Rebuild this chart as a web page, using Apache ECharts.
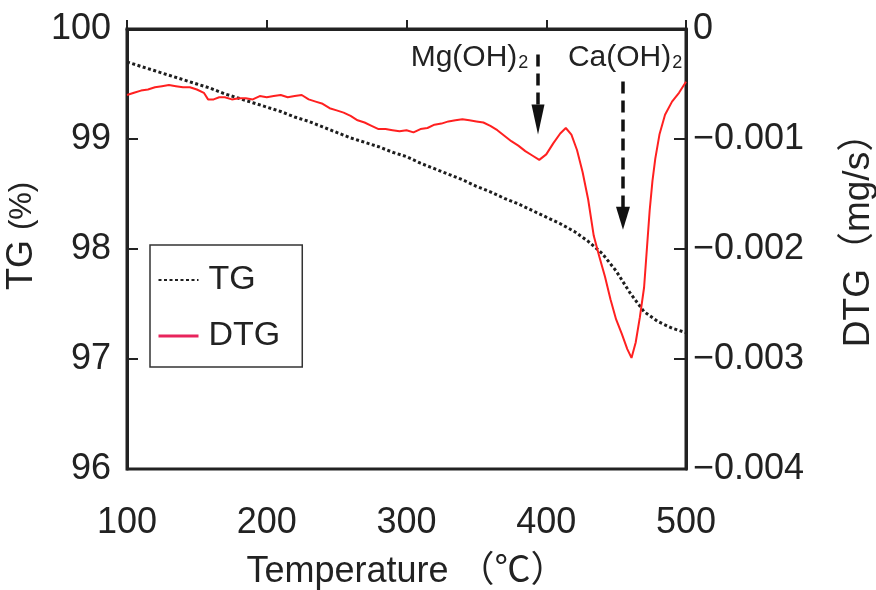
<!DOCTYPE html>
<html>
<head>
<meta charset="utf-8">
<script src="https://cdn.jsdelivr.net/npm/echarts@6/dist/echarts.min.js"></script>
<style>
  html, body { margin: 0; padding: 0; background: #fff; }
  #chart { width: 876px; height: 590px; }
</style>
</head>
<body>
<div id="chart"></div>
<script>
// Thermogravimetric curve (TG, % of initial mass) vs temperature (°C)
const tgTemps = [100, 110, 120, 130, 140, 150, 160, 170, 180, 190, 200, 210, 220, 230, 240, 250,
  260, 270, 280, 290, 300, 310, 320, 330, 340, 350, 360, 370, 380, 390, 400, 410, 420, 430,
  440, 450, 460, 470, 480, 490, 500];
const tgValues = [99.70, 99.66, 99.62, 99.58, 99.54, 99.50, 99.46, 99.41, 99.37, 99.33, 99.29,
  99.25, 99.20, 99.16, 99.11, 99.06, 99.01, 98.97, 98.93, 98.88, 98.84, 98.78, 98.73, 98.68,
  98.63, 98.57, 98.52, 98.46, 98.41, 98.35, 98.29, 98.23, 98.16, 98.07, 97.96, 97.80, 97.60,
  97.43, 97.34, 97.28, 97.24];

// Derivative curve (DTG, mg/s) vs temperature (°C)
const dtgTemps = [100, 105, 110, 115, 120, 125, 130, 135, 140, 145, 150, 155, 158, 162, 166,
  170, 175, 180, 185, 190, 195, 200, 205, 210, 215, 220, 225, 230, 235, 240, 245, 250, 255,
  260, 265, 270, 275, 280, 285, 290, 295, 300, 305, 310, 315, 320, 325, 330, 335, 340, 345,
  350, 355, 360, 365, 370, 375, 380, 385, 390, 395, 400, 405, 410, 414, 418, 422, 426, 430,
  434, 438, 442, 446, 450, 454, 458, 461, 464, 467, 470, 472, 474, 476, 478, 481, 485, 490,
  495, 500];
const dtgValues = [-0.00060, -0.00058, -0.00056, -0.00055, -0.00053, -0.00052, -0.00051,
  -0.00052, -0.00053, -0.00053, -0.00055, -0.00058, -0.00064, -0.00064, -0.00062, -0.00062,
  -0.00064, -0.00063, -0.00063, -0.00064, -0.00061, -0.00062, -0.00061, -0.00060, -0.00062,
  -0.00061, -0.00060, -0.00064, -0.00066, -0.00068, -0.00072, -0.00074, -0.00076, -0.00079,
  -0.00083, -0.00085, -0.00088, -0.00091, -0.00091, -0.00092, -0.00093, -0.00092, -0.00094,
  -0.00091, -0.00090, -0.00087, -0.00086, -0.00084, -0.00083, -0.00082, -0.00083, -0.00084,
  -0.00085, -0.00088, -0.00092, -0.00097, -0.00102, -0.00106, -0.00111, -0.00115, -0.00119,
  -0.00114, -0.00104, -0.00095, -0.00090, -0.00096, -0.00110, -0.00130, -0.00155, -0.00188,
  -0.00207, -0.00225, -0.00246, -0.00264, -0.00277, -0.00291, -0.00299, -0.00285, -0.00262,
  -0.00235, -0.00200, -0.00165, -0.00138, -0.00118, -0.00096, -0.00078, -0.00066, -0.00058,
  -0.00048];

// Peak assignments: label anchor (°C, %) and dashed arrow (°C, from %, arrow-head centre %)
const peakNames = ['Mg(OH)', 'Ca(OH)'];
const peakLabelAt = [[345.1, 99.736], [456.4, 99.736]];
const peakArrowX = [394.1, 454.9];
const peakArrowFrom = [99.768, 99.522];
const peakArrowTo = [99.177, 98.28];
const peakHeadSize = [[13, 30], [14, 23]];

const xTicks = { min: 100, max: 500, interval: 100 };
const tgTicks = { min: 96, max: 100, interval: 1 };
const dtgTicks = { min: -0.004, max: 0, interval: 0.001 };

const FONT = '"Liberation Sans", Arial, "Noto Sans CJK JP", sans-serif';
const INK = '#222';

const chart = echarts.init(document.getElementById('chart'), null, { renderer: 'canvas' });

const tgData = tgTemps.map((t, i) => [t, tgValues[i]]);
const dtgData = dtgTemps.map((t, i) => [t, dtgValues[i]]);

const arrowLines = peakArrowX.map((x, i) => [
  { coord: [x, peakArrowFrom[i]], symbol: 'none' },
  { coord: [x, peakArrowTo[i]], symbol: 'triangle', symbolSize: peakHeadSize[i] }
]);

const peakLabels = peakNames.map((n, i) => ({
  coord: peakLabelAt[i],
  symbol: 'rect',
  symbolSize: 1,
  itemStyle: { color: 'rgba(0,0,0,0)' },
  label: {
    show: true,
    position: 'inside',
    formatter: '{m|' + n + '}{s|2}',
    rich: {
      m: { fontSize: 30, fontFamily: FONT, color: INK, verticalAlign: 'bottom' },
      s: { fontSize: 18, fontFamily: FONT, color: INK, verticalAlign: 'bottom', padding: [0, 0, 1, 1] }
    }
  }
}));

chart.setOption({
  backgroundColor: '#fff',
  animation: false,
  grid: {
    left: 127, right: 190, top: 29, bottom: 121,
    containLabel: false,
    outerBoundsMode: 'none',
    show: true, borderColor: INK, borderWidth: 3, backgroundColor: 'transparent'
  },
  legend: {
    orient: 'vertical',
    left: 150, top: 245,
    padding: [18, 22, 14, 7],
    itemGap: 22,
    itemWidth: 40,
    itemHeight: 14,
    borderColor: '#333',
    borderWidth: 1.5,
    backgroundColor: '#fff',
    itemStyle: { opacity: 0 },
    textStyle: { fontSize: 34, color: INK, fontFamily: FONT, padding: [0, 0, 0, 5] },
    data: [
      { name: 'TG' },
      { name: 'DTG', lineStyle: { color: '#e8245c', width: 3 } }
    ]
  },
  xAxis: {
    type: 'value',
    min: xTicks.min, max: xTicks.max, interval: xTicks.interval,
    name: 'Temperature （℃）',
    nameLocation: 'middle',
    nameGap: 85,
    nameTextStyle: { fontSize: 36, color: INK, fontFamily: FONT },
    axisLine: { lineStyle: { color: INK, width: 3 } },
    axisTick: { inside: true, length: 9, lineStyle: { color: INK, width: 2 } },
    axisLabel: { fontSize: 36, color: INK, fontFamily: FONT, margin: 36 },
    splitLine: { show: false }
  },
  yAxis: [
    {
      type: 'value',
      position: 'left',
      min: tgTicks.min, max: tgTicks.max, interval: tgTicks.interval,
      name: '{a|TG }{b|(%)}',
      nameLocation: 'middle',
      nameGap: 67,
      nameRotate: 90,
      nameTextStyle: {
        fontSize: 36, color: INK, fontFamily: FONT,
        padding: [0, 0, 0, 26],
        rich: {
          a: { fontSize: 36, color: INK, fontFamily: FONT },
          b: { fontSize: 31, color: INK, fontFamily: FONT }
        }
      },
      axisLine: { show: true, lineStyle: { color: INK, width: 3 } },
      axisTick: { show: true, inside: true, length: 11, lineStyle: { color: INK, width: 2 } },
      axisLabel: { fontSize: 36, color: INK, fontFamily: FONT, margin: 16 },
      splitLine: { show: false }
    },
    {
      type: 'value',
      position: 'right',
      min: dtgTicks.min, max: dtgTicks.max, interval: dtgTicks.interval,
      name: 'DTG（mg/s）',
      nameLocation: 'middle',
      nameGap: 154,
      nameRotate: 90,
      nameTextStyle: { fontSize: 37, color: INK, fontFamily: FONT, padding: [0, 0, 0, 36] },
      axisLine: { show: true, lineStyle: { color: INK, width: 3 } },
      axisTick: { show: true, inside: true, length: 12, lineStyle: { color: INK, width: 2 } },
      axisLabel: {
        fontSize: 36, color: INK, fontFamily: FONT, margin: 7,
        formatter: v => (Math.abs(v) < 1e-9 ? '0' : '\u2212' + Math.abs(v).toFixed(3))
      },
      splitLine: { show: false }
    }
  ],
  series: [
    {
      name: 'TG',
      type: 'line',
      yAxisIndex: 0,
      data: tgData,
      showSymbol: false,
      symbol: 'none',
      lineStyle: { color: '#1e1e1e', width: 3, type: [3, 2.5] },
      itemStyle: { color: '#1e1e1e' },
      z: 3,
      markLine: {
        silent: true,
        symbol: ['none', 'triangle'],
        label: { show: false },
        lineStyle: { color: '#111', width: 3.5, type: [12, 7] },
        itemStyle: { color: '#111' },
        emphasis: { disabled: true },
        data: arrowLines
      },
      markPoint: {
        silent: true,
        data: peakLabels
      }
    },
    {
      name: 'DTG',
      type: 'line',
      yAxisIndex: 1,
      data: dtgData,
      showSymbol: false,
      symbol: 'none',
      lineStyle: { color: '#ff2020', width: 2 },
      itemStyle: { color: '#ff2020' },
      z: 4
    }
  ]
});
</script>
</body>
</html>
